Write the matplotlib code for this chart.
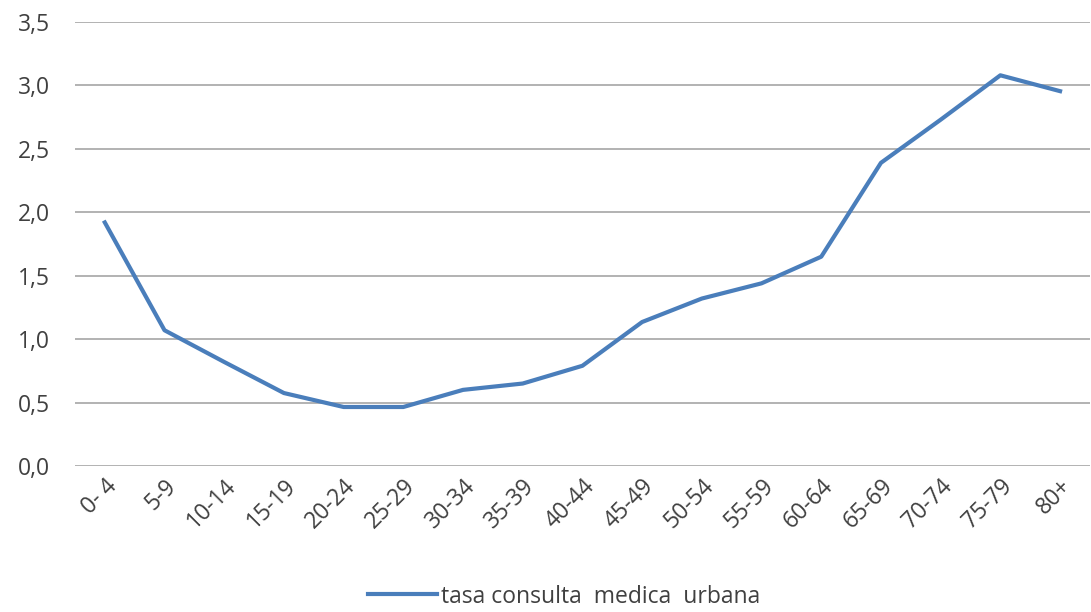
import matplotlib
matplotlib.use('Agg')
import matplotlib.pyplot as plt
import numpy as np

# age groups and consultation rate
grupos = ['0- 4', '5-9', '10-14', '15-19', '20-24', '25-29', '30-34', '35-39',
          '40-44', '45-49', '50-54', '55-59', '60-64', '65-69', '70-74', '75-79', '80+']
tasa = [1.92, 1.07, 0.82, 0.575, 0.465, 0.465, 0.60, 0.65,
        0.79, 1.135, 1.32, 1.44, 1.65, 2.39, 2.73, 3.08, 2.955]
yticks = [0.0, 0.5, 1.0, 1.5, 2.0, 2.5, 3.0, 3.5]

plt.rcParams['font.family'] = ['Open Sans', 'DejaVu Sans']
fs = 16.5

fig = plt.figure(figsize=(10.91, 6.12), dpi=100)
ax = fig.add_axes([0.0687, 0.2386, 0.9303, 0.7254])

x = np.arange(len(grupos))
ax.plot(x, tasa, color='#4a7ebb', linewidth=3.0, solid_joinstyle='round',
        label='tasa consulta  medica  urbana')

ax.set_xlim(-0.5, len(grupos) - 0.5)
ax.set_ylim(0, 3.5)
ax.set_yticks(yticks)
ax.set_yticklabels([f'{v:.1f}'.replace('.', ',') for v in yticks], fontsize=fs, color='#404040')
ax.set_xticks(x)
ax.set_xticklabels(grupos, rotation=45, ha='right', rotation_mode='anchor',
                   fontsize=fs, color='#404040')
ax.tick_params(axis='x', length=0, pad=6)
ax.tick_params(axis='y', length=0, pad=18)
ax.grid(axis='y', color='#a6a6a6', linewidth=1.2)
ax.set_axisbelow(True)
for s in ax.spines.values():
    s.set_visible(False)

leg = fig.legend(loc='lower center', bbox_to_anchor=(0.517, -0.028), frameon=False,
                 fontsize=fs, handlelength=3.0, handletextpad=0.2)
for t in leg.get_texts():
    t.set_color('#404040')

fig.savefig('out.png', dpi=100)
